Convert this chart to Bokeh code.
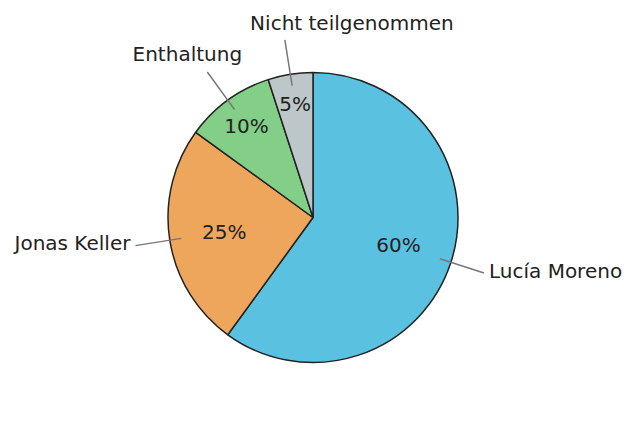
import numpy as np
from bokeh.plotting import figure
from bokeh.models import Range1d, ColumnDataSource
from bokeh.core.properties import value
from bokeh.embed import file_html
from bokeh.resources import INLINE

# ---- data ----
labels = ["Lucía Moreno", "Jonas Keller", "Enthaltung", "Nicht teilgenommen"]
shares = [60, 25, 10, 5]
colors = ["#5bc1e1", "#eda65c", "#83cf88", "#bdc6c9"]

# ---- layout (page pixels, y measured upward from bottom of 439px page) ----
W, H = 636, 439
cx, cy_page = 312.5, 217.0
cx_d, cy_d = cx, H - cy_page
R = 145.0
pct_r = [0.62, 0.62, 0.78, 0.79]
line_r0, line_r1 = 0.92, 1.24
# text offsets from the leader-line end (dx, dy in px, y up), alignment
text_off = [(5, 2, "left"), (-5, 3, "right"), (-20, 18, "center"), (67, 17, "center")]
FONT = value("DejaVu Sans")
FS = "20px"

vals = np.array(shares, dtype=float)
fr = vals / vals.sum()
ang_deg = 360 * fr
ends = 90 - np.cumsum(ang_deg)
starts = ends + ang_deg
mids = np.radians((starts + ends) / 2)

p = figure(width=628, height=423, output_backend="svg", toolbar_location=None,
           x_range=Range1d(0, 628), y_range=Range1d(16, 439),
           min_border=0, match_aspect=False)
p.axis.visible = False
p.grid.visible = False
p.outline_line_color = None
p.background_fill_color = "white"

src = ColumnDataSource(dict(start=np.radians(ends), end=np.radians(starts), color=colors))
p.wedge(x=cx_d, y=cy_d, radius=R, start_angle="start", end_angle="end",
        fill_color="color", line_color="#222222", line_width=1.5, source=src)

# percentage labels
px = [cx_d + pct_r[i] * R * np.cos(mids[i]) for i in range(4)]
py = [cy_d + pct_r[i] * R * np.sin(mids[i]) for i in range(4)]
p.text(x=px, y=py, text=[f"{s}%" for s in shares], text_align="center",
       text_baseline="middle", text_font=FONT, text_font_size=FS, text_color="#222222")

# leader lines and outer labels
for i in range(4):
    x0 = cx_d + line_r0 * R * np.cos(mids[i]); y0 = cy_d + line_r0 * R * np.sin(mids[i])
    x1 = cx_d + line_r1 * R * np.cos(mids[i]); y1 = cy_d + line_r1 * R * np.sin(mids[i])
    p.line([x0, x1], [y0, y1], line_color="#777777", line_width=1.5)
    dx, dy, al = text_off[i]
    p.text(x=[x1 + dx], y=[y1 + dy], text=[labels[i]], text_align=al,
           text_baseline="middle", text_font=FONT, text_font_size=FS, text_color="#222222")

open("out.html", "w").write(file_html(p, INLINE))
